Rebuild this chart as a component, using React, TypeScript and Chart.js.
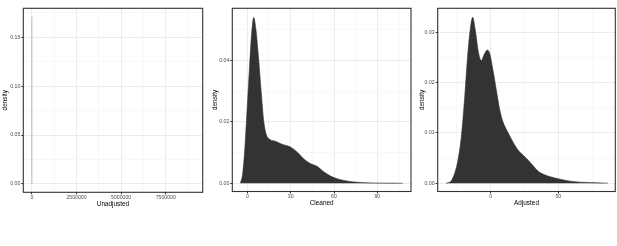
import React, { useEffect, useRef } from 'react';
import { Chart, registerables } from 'chart.js';

Chart.register(...registerables);

// ---------- Data ----------
// Unadjusted: extremely narrow spike at 0 (long tail to ~9.1e6 is ~0)
const unadjustedX = [0, 0];
const unadjustedDensity = [0, 0.171];
const unadjustedXMajor = [0, 2500000, 5000000, 7500000];
const unadjustedXMinor = [1250000, 3750000, 6250000, 8750000];
const unadjustedYMajor = [0, 0.05, 0.1, 0.15];
const unadjustedYMinor = [0.025, 0.075, 0.125, 0.175];

// Cleaned
const cleanedX = [-4.8, -3.2, -1.8, -0.2, 1.4, 2.8, 4.4, 6.0, 7.9, 9.7, 11.3, 12.9, 15.9, 19.4, 24.0, 29.8, 34.4, 39.0, 43.6, 48.3, 52.9, 58.6, 64, 70, 77, 86, 97, 107.7];
const cleanedDensity = [0, 0.0032, 0.0108, 0.0238, 0.0368, 0.0477, 0.054, 0.0499, 0.0401, 0.0292, 0.0205, 0.0162, 0.0142, 0.0137, 0.0127, 0.0118, 0.0102, 0.008, 0.0064, 0.0055, 0.0037, 0.0021, 0.0012, 0.00065, 0.0003, 0.0001, 0.00003, 0];
const cleanedXMajor = [0, 30, 60, 90];
const cleanedXMinor = [15, 45, 75, 105];
const cleanedYMajor = [0, 0.02, 0.04];
const cleanedYMinor = [0.01, 0.03, 0.05];

// Adjusted
const adjustedX = [-33, -31.6, -29.1, -26.6, -24.2, -21.7, -19.2, -17.3, -15.5, -13.3, -11.4, -8.9, -6.9, -5.0, -2.5, -0.7, 1.7, 4.2, 6.7, 9.1, 12.8, 16.5, 20.2, 23.9, 27.6, 31.3, 35, 39.5, 43.9, 51.3, 58.7, 66, 78, 86.7];
const adjustedDensity = [0, 0.0001, 0.0005, 0.002, 0.0046, 0.0093, 0.0172, 0.0245, 0.0298, 0.033, 0.0305, 0.0258, 0.0244, 0.0255, 0.0265, 0.0258, 0.0225, 0.0185, 0.0146, 0.0122, 0.0101, 0.0082, 0.0066, 0.0056, 0.0046, 0.0035, 0.0024, 0.0017, 0.0013, 0.0008, 0.0004, 0.0002, 0.0001, 0];
const adjustedXMajor = [0, 50];
const adjustedXMinor = [-25, 25, 75];
const adjustedYMajor = [0, 0.01, 0.02, 0.03];
const adjustedYMinor = [0.005, 0.015, 0.025];

// ---------- Layout / style ----------
const H = 246;
const FONT = '"Liberation Sans", Arial, Helvetica, sans-serif';
const TICK_COLOR = '#4d4d4d';
const FRAME_COLOR = '#333333';
const MAJOR_GRID = '#ebebeb';
const MINOR_GRID = '#f3f3f3';

type PanelDef = {
  title: string;
  xs: number[];
  ys: number[];
  xMajor: number[];
  xMinor: number[];
  yMajor: number[];
  yMinor: number[];
  xMin: number;
  xMax: number;
  yMin: number;
  yMax: number;
  filled: boolean;
  canvasLeft: number;
  canvasWidth: number;
  chartLeft: number;
  chartRight: number;
  chartTop: number;
  chartBottom: number;
  axisBottom: number;
  yTitlePad: number;
  xLabel: (v: number) => string;
};

const panels: PanelDef[] = [
  {
    title: 'Unadjusted',
    xs: unadjustedX, ys: unadjustedDensity,
    xMajor: unadjustedXMajor, xMinor: unadjustedXMinor,
    yMajor: unadjustedYMajor, yMinor: unadjustedYMinor,
    xMin: -480000, xMax: 9570000, yMin: -0.0086, yMax: 0.1796,
    filled: false,
    canvasLeft: 0, canvasWidth: 208,
    chartLeft: 23.3, chartRight: 202.7, chartTop: 8.3, chartBottom: 192.3,
    axisBottom: 208.1, yTitlePad: 1.4,
    xLabel: (v) => String(v),
  },
  {
    title: 'Cleaned',
    xs: cleanedX, ys: cleanedDensity,
    xMajor: cleanedXMajor, xMinor: cleanedXMinor,
    yMajor: cleanedYMajor, yMinor: cleanedYMinor,
    xMin: -10.4, xMax: 113.3, yMin: -0.0027, yMax: 0.057,
    filled: true,
    canvasLeft: 205, canvasWidth: 210,
    chartLeft: 232.3, chartRight: 411, chartTop: 8.3, chartBottom: 191.5,
    axisBottom: 207.1, yTitlePad: 6.2,
    xLabel: (v) => String(v),
  },
  {
    title: 'Adjusted',
    xs: adjustedX, ys: adjustedDensity,
    xMajor: adjustedXMajor, xMinor: adjustedXMinor,
    yMajor: adjustedYMajor, yMinor: adjustedYMinor,
    xMin: -39.2, xMax: 92.2, yMin: -0.00166, yMax: 0.0348,
    filled: true,
    canvasLeft: 410, canvasWidth: 207,
    chartLeft: 437.7, chartRight: 615.3, chartTop: 8.3, chartBottom: 191.5,
    axisBottom: 207.1, yTitlePad: 7.9,
    xLabel: (v) => String(v),
  },
];

const isIn = (arr: number[], v: number) => arr.some((a) => Math.abs(a - v) < 1e-9 * Math.max(1, Math.abs(a)));

const framePlugin = {
  id: 'frame',
  afterDraw(chart: any) {
    const { ctx, chartArea } = chart;
    ctx.save();
    ctx.strokeStyle = FRAME_COLOR;
    ctx.lineWidth = 1.1;
    ctx.strokeRect(chartArea.left, chartArea.top, chartArea.right - chartArea.left, chartArea.bottom - chartArea.top);
    ctx.restore();
  },
};

function Panel({ p }: { p: PanelDef }) {
  const ref = useRef<HTMLCanvasElement | null>(null);

  useEffect(() => {
    if (!ref.current) return;
    const allX = [...p.xMajor, ...p.xMinor].sort((a, b) => a - b);
    const allY = [...p.yMajor, ...p.yMinor].sort((a, b) => a - b);
    const gridFor = (major: number[]) => ({
      display: true,
      drawOnChartArea: true,
      drawTicks: true,
      tickLength: 2,
      color: (c: any) => (c.tick && isIn(major, c.tick.value) ? MAJOR_GRID : MINOR_GRID),
      lineWidth: (c: any) => (c.tick && isIn(major, c.tick.value) ? 1 : 0.6),
      tickColor: (c: any) => (c.tick && isIn(major, c.tick.value) ? FRAME_COLOR : 'rgba(0,0,0,0)'),
      tickWidth: 1,
    });

    const chart = new Chart(ref.current, {
      type: 'line',
      data: {
        datasets: [
          {
            data: p.xs.map((x, i) => ({ x, y: p.ys[i] })),
            borderColor: p.filled ? '#333333' : '#b8b8b8',
            backgroundColor: '#333333',
            borderWidth: p.filled ? 0.6 : 1,
            fill: p.filled ? 'origin' : false,
            pointRadius: 0,
            cubicInterpolationMode: 'monotone',
          } as any,
        ],
      },
      options: {
        responsive: false,
        animation: false,
        devicePixelRatio: 1,
        layout: {
          padding: {
            left: 0,
            top: p.chartTop,
            right: p.canvasWidth - (p.chartRight - p.canvasLeft),
            bottom: H - p.axisBottom,
          },
        },
        plugins: { legend: { display: false }, tooltip: { enabled: false } },
        scales: {
          x: {
            type: 'linear',
            min: p.xMin,
            max: p.xMax,
            afterBuildTicks: (s: any) => {
              s.ticks = allX.map((v) => ({ value: v }));
            },
            afterFit: (s: any) => {
              s.height = p.axisBottom - p.chartBottom;
            },
            ticks: {
              autoSkip: false,
              maxRotation: 0,
              minRotation: 0,
              padding: 0,
              color: TICK_COLOR,
              font: { family: FONT, size: 5.2 },
              callback: (v: any) => (isIn(p.xMajor, Number(v)) ? p.xLabel(Number(v)) : ''),
            },
            grid: gridFor(p.xMajor) as any,
            border: { display: false },
            title: {
              display: true,
              text: p.title,
              color: '#000000',
              font: { family: FONT, size: 6.4, lineHeight: 1.2 },
              padding: 0,
            },
          },
          y: {
            type: 'linear',
            min: p.yMin,
            max: p.yMax,
            afterBuildTicks: (s: any) => {
              s.ticks = allY.map((v) => ({ value: v }));
            },
            afterFit: (s: any) => {
              s.width = p.chartLeft - p.canvasLeft;
            },
            ticks: {
              autoSkip: false,
              padding: 1,
              color: TICK_COLOR,
              font: { family: FONT, size: 5.2 },
              callback: (v: any) => (isIn(p.yMajor, Number(v)) ? Number(v).toFixed(2) : ''),
            },
            grid: gridFor(p.yMajor) as any,
            border: { display: false },
            title: {
              display: true,
              text: 'density',
              color: '#000000',
              font: { family: FONT, size: 6.4, lineHeight: 1.2 },
              padding: { top: p.yTitlePad, bottom: 0 },
            },
          },
        },
      },
      plugins: [framePlugin],
    });
    return () => chart.destroy();
  }, [p]);

  return (
    <canvas
      ref={ref}
      width={p.canvasWidth}
      height={H}
      style={{ position: 'absolute', left: p.canvasLeft, top: 0, width: p.canvasWidth, height: H }}
    />
  );
}

export default function App() {
  return (
    <div style={{ position: 'absolute', left: 0, top: 0, width: 617, height: H, background: '#ffffff', overflow: 'hidden' }}>
      {panels.map((p) => (
        <Panel key={p.title} p={p} />
      ))}
    </div>
  );
}
